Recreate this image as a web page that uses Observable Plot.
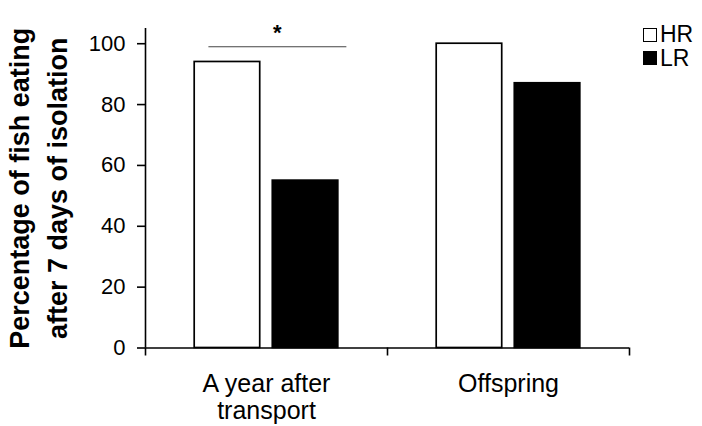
<!DOCTYPE html>
<html><head><meta charset="utf-8">
<script src="https://cdn.jsdelivr.net/npm/d3@7"></script>
<script src="https://cdn.jsdelivr.net/npm/@observablehq/plot@0.6"></script>
<style>
html,body{margin:0;padding:0;background:#fff;}
#wrap{position:relative;width:702px;height:426px;overflow:hidden;font-family:"Liberation Sans",Arial,sans-serif;}
#legend{position:absolute;left:643px;top:23px;font-size:23px;color:#000;}
.row{display:flex;align-items:center;height:23.5px;}
.sw{width:14px;height:14px;box-sizing:border-box;border:1.5px solid #000;margin-right:3px;}
</style></head><body><div id="wrap"></div>
<script>
// ---- data ----
const groups = ["A year after transport", "Offspring"];
const groupLabels = ["A year after\ntransport", "Offspring"];
const series = ["HR", "LR"];
const seriesFill = ["#ffffff", "#000000"];
const hrValues = [94, 100];
const lrValues = [55, 87];
const yTicks = [0, 20, 40, 60, 80, 100];
const yTitle = "Percentage of fish eating\nafter 7 days of isolation";
// significance annotation (group index, span within group in group units, level)
const significance = [{group: 0, from: 0.26, to: 0.83, y: 99, label: "*"}];

// ---- build ----
const values = {HR: hrValues, LR: lrValues};
const bars = groups.flatMap((g, i) => series.map((s, j) => ({group: g, gi: i, series: s, fill: seriesFill[j], value: values[s][i]})));
const inner = d3.scaleBand().domain(series).range([0, 1]).paddingInner(0.161).paddingOuter(0.63);

const chart = Plot.plot({
  width: 702, height: 426,
  marginLeft: 145, marginRight: 73, marginTop: 28, marginBottom: 78.5,
  x: {type: "linear", domain: [0, groups.length]},
  y: {domain: [0, 105]},
  style: {fontFamily: '"Liberation Sans", Arial, sans-serif', color: "#000", background: "#fff", overflow: "visible"},
  marks: [
    Plot.rect(bars, {
      x1: d => d.gi + inner(d.series),
      x2: d => d.gi + inner(d.series) + inner.bandwidth(),
      y1: 0, y2: "value",
      fill: "fill", stroke: "#000", strokeWidth: 1.7
    }),
    Plot.ruleY([0], {stroke: "#000", strokeWidth: 1.6}),
    Plot.ruleX([0], {stroke: "#000", strokeWidth: 1.6}),
    Plot.axisY({ticks: yTicks, tickSize: 8, tickPadding: 12, fontSize: 22, label: null, strokeWidth: 1.6}),
    Plot.axisX({ticks: d3.range(groups.length + 1), tickSize: 8, tickFormat: () => "", label: null, strokeWidth: 1.6}),
    Plot.axisX({ticks: groups.map((g, i) => i + 0.5), tickSize: 0, tickPadding: 25.5, fontSize: 25, lineHeight: 1.06,
      tickFormat: t => groupLabels[Math.floor(t)], label: null}),
    Plot.text([yTitle], {frameAnchor: "left", textAnchor: "middle", rotate: -90, dx: -110, fontSize: 27, fontWeight: "bold", lineHeight: 1.41, text: d => d}),
    Plot.link(significance, {x1: d => d.group + d.from, x2: d => d.group + d.to, y1: "y", y2: "y", stroke: "#444", strokeWidth: 1}),
    Plot.text(significance, {x: d => d.group + (d.from + d.to) / 2, y: "y", text: "label", dy: -14, fontSize: 22, fontWeight: "bold"})
  ]
});

const wrap = document.getElementById("wrap");
wrap.appendChild(chart);
const legend = document.createElement("div");
legend.id = "legend";
series.forEach((s, j) => {
  const row = document.createElement("div");
  row.className = "row";
  const sw = document.createElement("span");
  sw.className = "sw";
  sw.style.background = seriesFill[j];
  const lab = document.createElement("span");
  lab.textContent = s;
  row.appendChild(sw); row.appendChild(lab);
  legend.appendChild(row);
});
wrap.appendChild(legend);
</script></body></html>
